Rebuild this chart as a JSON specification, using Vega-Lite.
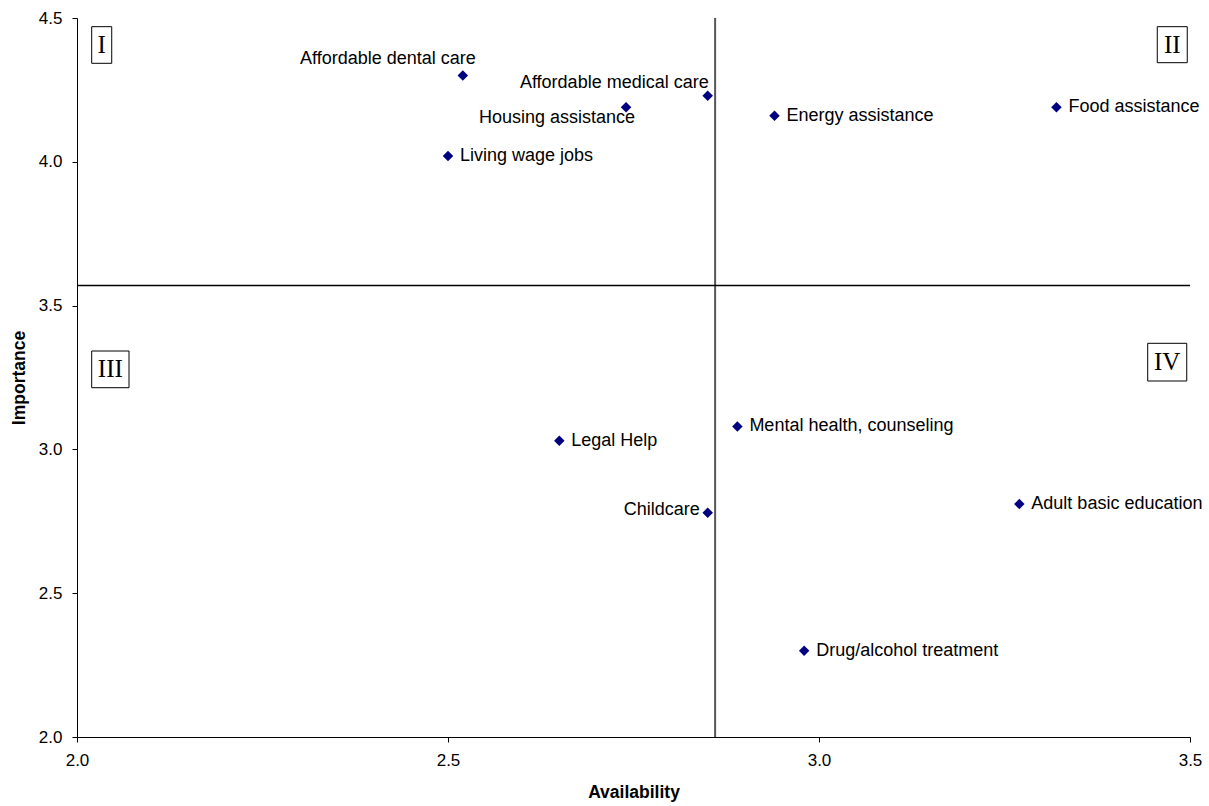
{
  "$schema": "https://vega.github.io/schema/vega-lite/v6.json",
  "width": 1113,
  "height": 719,
  "autosize": "none",
  "padding": {"left": 77, "top": 18, "right": 19, "bottom": 69},
  "background": "white",
  "config": {
    "view": {"stroke": null}
  },
  "datasets": {
    "points": [
      {"name": "Affordable dental care", "availability": 2.52, "importance": 4.30},
      {"name": "Affordable medical care", "availability": 2.85, "importance": 4.23},
      {"name": "Housing assistance", "availability": 2.74, "importance": 4.19},
      {"name": "Living wage jobs", "availability": 2.50, "importance": 4.02},
      {"name": "Energy assistance", "availability": 2.94, "importance": 4.16},
      {"name": "Food assistance", "availability": 3.32, "importance": 4.19},
      {"name": "Legal Help", "availability": 2.65, "importance": 3.03},
      {"name": "Mental health, counseling", "availability": 2.89, "importance": 3.08},
      {"name": "Childcare", "availability": 2.85, "importance": 2.78},
      {"name": "Adult basic education", "availability": 3.27, "importance": 2.81},
      {"name": "Drug/alcohol treatment", "availability": 2.98, "importance": 2.30}
    ],
    "quadrants": [
      {"label": "I", "cx": 2.0333, "cy": 4.406, "x1": 2.0198, "x2": 2.0468, "y1": 4.3425, "y2": 4.4698},
      {"label": "II", "cx": 3.4761, "cy": 4.407, "x1": 3.4559, "x2": 3.4963, "y1": 4.3446, "y2": 4.4698},
      {"label": "III", "cx": 2.0449, "cy": 3.278, "x1": 2.0198, "x2": 2.0701, "y1": 3.2145, "y2": 3.3421},
      {"label": "IV", "cx": 3.4693, "cy": 3.303, "x1": 3.443, "x2": 3.4956, "y1": 3.2378, "y2": 3.3689}
    ]
  },
  "layer": [
    {
      "data": {"values": [{"availability": 2.86}]},
      "mark": {"type": "rule", "color": "#555555", "strokeWidth": 2},
      "encoding": {
        "x": {"field": "availability", "type": "quantitative", "scale": {"domain": [2.0, 3.5]}}
      }
    },
    {
      "data": {"values": [{"importance": 3.57}]},
      "mark": {"type": "rule", "color": "#000000", "strokeWidth": 1.5},
      "encoding": {
        "y": {"field": "importance", "type": "quantitative", "scale": {"domain": [2.0, 4.5]}}
      }
    },
    {
      "data": {"name": "points"},
      "mark": {"type": "point", "shape": "diamond", "filled": true, "size": 110, "color": "#000080", "opacity": 1},
      "encoding": {
        "x": {
          "field": "availability", "type": "quantitative",
          "scale": {"domain": [2.0, 3.5], "nice": false, "zero": false},
          "axis": {
            "title": "Availability", "values": [2.0, 2.5, 3.0, 3.5], "format": ".1f",
            "grid": false, "domainColor": "#000000", "tickColor": "#000000", "tickSize": 5,
            "labelFont": "Liberation Sans", "labelFontSize": 17, "labelColor": "#000000", "labelFlush": false,
            "labelPadding": 10, "titlePadding": 15,
            "titleFont": "Liberation Sans", "titleFontSize": 17.5, "titleFontWeight": "bold", "titleColor": "#000000"
          }
        },
        "y": {
          "field": "importance", "type": "quantitative",
          "scale": {"domain": [2.0, 4.5], "nice": false, "zero": false},
          "axis": {
            "title": "Importance", "values": [2.0, 2.5, 3.0, 3.5, 4.0, 4.5], "format": ".1f",
            "grid": false, "domainColor": "#000000", "tickColor": "#000000", "tickSize": 5,
            "labelFont": "Liberation Sans", "labelFontSize": 17, "labelColor": "#000000", "labelFlush": false,
            "labelPadding": 10, "titlePadding": 10,
            "titleFont": "Liberation Sans", "titleFontSize": 17.5, "titleFontWeight": "bold", "titleColor": "#000000"
          }
        }
      }
    },
    {
      "data": {"name": "points"},
      "transform": [{"filter": "indexof(['Affordable dental care','Affordable medical care','Housing assistance','Childcare'], datum.name) < 0"}],
      "mark": {"type": "text", "align": "left", "baseline": "middle", "dx": 12, "font": "Liberation Sans", "fontSize": 18, "color": "#000000"},
      "encoding": {
        "x": {"field": "availability", "type": "quantitative"},
        "y": {"field": "importance", "type": "quantitative"},
        "text": {"field": "name"}
      }
    },
    {
      "data": {"name": "points"},
      "transform": [{"filter": "datum.name === 'Affordable dental care'"}],
      "mark": {"type": "text", "align": "right", "baseline": "middle", "dx": 13, "dy": -17, "font": "Liberation Sans", "fontSize": 18, "color": "#000000"},
      "encoding": {
        "x": {"field": "availability", "type": "quantitative"},
        "y": {"field": "importance", "type": "quantitative"},
        "text": {"field": "name"}
      }
    },
    {
      "data": {"name": "points"},
      "transform": [{"filter": "datum.name === 'Affordable medical care'"}],
      "mark": {"type": "text", "align": "right", "baseline": "middle", "dx": 1, "dy": -13, "font": "Liberation Sans", "fontSize": 18, "color": "#000000"},
      "encoding": {
        "x": {"field": "availability", "type": "quantitative"},
        "y": {"field": "importance", "type": "quantitative"},
        "text": {"field": "name"}
      }
    },
    {
      "data": {"name": "points"},
      "transform": [{"filter": "datum.name === 'Housing assistance'"}],
      "mark": {"type": "text", "align": "right", "baseline": "middle", "dx": 9, "dy": 11, "font": "Liberation Sans", "fontSize": 18, "color": "#000000"},
      "encoding": {
        "x": {"field": "availability", "type": "quantitative"},
        "y": {"field": "importance", "type": "quantitative"},
        "text": {"field": "name"}
      }
    },
    {
      "data": {"name": "points"},
      "transform": [{"filter": "datum.name === 'Childcare'"}],
      "mark": {"type": "text", "align": "right", "baseline": "middle", "dx": -8, "dy": -3, "font": "Liberation Sans", "fontSize": 18, "color": "#000000"},
      "encoding": {
        "x": {"field": "availability", "type": "quantitative"},
        "y": {"field": "importance", "type": "quantitative"},
        "text": {"field": "name"}
      }
    },
    {
      "data": {"name": "quadrants"},
      "mark": {"type": "rect", "fill": "white", "stroke": "#000000", "strokeWidth": 1},
      "encoding": {
        "x": {"field": "x1", "type": "quantitative"},
        "x2": {"field": "x2"},
        "y": {"field": "y1", "type": "quantitative"},
        "y2": {"field": "y2"}
      }
    },
    {
      "data": {"name": "quadrants"},
      "mark": {"type": "text", "align": "center", "baseline": "middle", "font": "Liberation Serif", "fontSize": 25, "color": "#000000"},
      "encoding": {
        "x": {"field": "cx", "type": "quantitative"},
        "y": {"field": "cy", "type": "quantitative"},
        "text": {"field": "label"}
      }
    }
  ]
}
